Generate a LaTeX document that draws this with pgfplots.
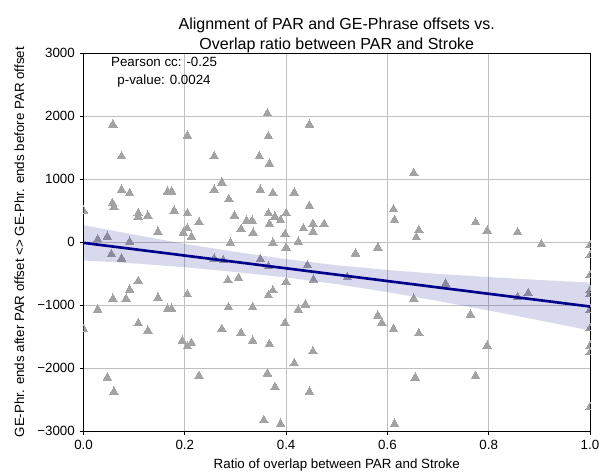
\documentclass[border=0pt]{standalone}
\usepackage{pgfplots}
\pgfplotsset{compat=1.18}
\usepackage{fontspec}
\setmainfont{Liberation Sans}
\definecolor{pts}{RGB}{163,163,163}
\definecolor{reg}{RGB}{0,0,139}
\definecolor{gridc}{RGB}{192,192,192}
\begin{document}
\begin{tikzpicture}
\begin{axis}[
  width=379.5pt, height=283.5pt, scale only axis,
  xmin=0, xmax=1, ymin=-3000, ymax=3000,
  xtick={0,0.2,0.4,0.6,0.8,1.0},
  xticklabels={0.0,0.2,0.4,0.6,0.8,1.0},
  ytick={-3000,-2000,-1000,0,1000,2000,3000},
  yticklabels={−3000,−2000,−1000,0,1000,2000,3000},
  tick align=outside, tick pos=left,
  major tick length=3pt,
  every tick/.style={black, line width=0.6pt},
  grid=major, grid style={gridc, line width=0.6pt},
  axis line style={black, line width=0.6pt},
  tick label style={font=\fontsize{10}{12}\selectfont},
  title={Alignment of PAR and GE-Phrase offsets vs.\\Overlap ratio between PAR and Stroke},
  title style={font=\fontsize{12}{15}\selectfont, align=center, at={(axis description cs:0.5,1)}, anchor=center, yshift=7pt},
  xlabel={Ratio of overlap between PAR and Stroke},
  ylabel={GE-Phr. ends after PAR offset <> GE-Phr. ends before PAR offset},
  label style={font=\fontsize{10}{12}\selectfont},
  xlabel style={at={(axis description cs:0.5,0)}, anchor=center, yshift=-25.5pt},
  ylabel style={at={(axis description cs:-0.1265,0.5)}, anchor=center},
  clip marker paths=true,
]
\addplot[only marks, color=pts, mark=triangle*, mark size=3.7pt, mark options={fill=pts, draw=pts, line width=0pt}] coordinates {
(0.058,1866) (0.205,1690) (0.075,1361) (0.258,1361) (0.347,1361)
(0.075,830) (0.091,776) (0.166,803) (0.174,803) (0.273,946) (0.258,830)
(0.287,681) (0.349,830) (0.057,620) (0.060,560) (0.0,500) (0.108,457)
(0.127,420) (0.108,400) (0.179,500) (0.205,457) (0.228,314) (0.298,420)
(0.322,340) (0.333,340) (0.311,207) (0.335,148) (0.147,164) (0.197,148)
(0.205,218) (0.028,43) (0.047,85) (0.091,5) (0.055,-191) (0.075,-260)
(0.213,85) (0.290,-11) (0.258,-260) (0.276,-287) (0.349,-270)
(0.108,-617) (0.091,-755) (0.058,-898) (0.084,-898) (0.028,-1069)
(0.0,-1377) (0.147,-882) (0.166,-1058) (0.174,-1058) (0.205,-829)
(0.108,-1287) (0.127,-1404) (0.285,-606) (0.306,-569) (0.286,-1032)
(0.334,-1032) (0.273,-1377) (0.311,-1441) (0.334,-1563) (0.195,-1563)
(0.205,-1654) (0.213,-1600) (0.047,-2148) (0.060,-2372) (0.228,-2121)
(0.363,2041) (0.446,1866) (0.365,1680) (0.367,1244) (0.652,1096)
(0.374,776) (0.416,787) (0.446,574) (0.612,521) (0.614,351) (0.365,457)
(0.378,404) (0.389,351) (0.400,457) (0.367,287) (0.453,287) (0.475,287)
(0.434,218) (0.453,164) (0.398,128) (0.662,191) (0.374,-11) (0.424,5)
(0.400,-85) (0.657,75) (0.537,-180) (0.581,-85) (0.365,-383) (0.442,-367)
(0.454,-595) (0.521,-553) (0.400,-633) (0.374,-766) (0.365,-845)
(0.424,-1074) (0.438,-989) (0.652,-898) (0.581,-1164) (0.589,-1281)
(0.612,-1377) (0.662,-1446) (0.398,-1281) (0.367,-1617) (0.453,-1733)
(0.416,-1919) (0.363,-2084) (0.378,-2297) (0.446,-2372) (0.655,-2148)
(0.356,-2823) (0.389,-2882) (0.614,-2882) (0.774,314) (0.797,180)
(0.857,155) (0.904,-32) (1.0,-48) (1.0,-207) (1.0,-526) (1.0,-766)
(1.0,-820) (1.0,-1074) (1.0,-1367) (1.0,-1643) (1.0,-1749) (1.0,-2616)
(0.715,-659) (0.764,-1148) (0.797,-1643) (0.774,-2121) (0.857,-872)
(0.878,-808)
};
\addplot[draw=none, fill=reg, fill opacity=0.15] coordinates {
(0,270) (0.1,120) (0.2,-27) (0.3,-153) (0.4,-269) (0.5,-365) (0.6,-441)
(0.7,-502) (0.8,-553) (0.9,-599) (1.0,-640)
(1.0,-1400) (0.9,-1239) (0.8,-1083) (0.7,-932) (0.6,-791) (0.5,-665)
(0.4,-559) (0.3,-473) (0.2,-397) (0.1,-336) (0,-290)
} -- cycle;
\addplot[reg, line width=2pt] coordinates {(0,-10) (1,-1020)};
\node[align=center, font=\fontsize{10}{13.5}\selectfont, inner sep=0pt] at (axis cs:0.159,2700) {Pearson cc: -0.25\\p-value: 0.0024};
\end{axis}
\pgfresetboundingbox
\path[use as bounding box] ([xshift=-62.6pt,yshift=-30.75pt]current axis.south west) rectangle ([xshift=6.75pt,yshift=39.75pt]current axis.north east);
\end{tikzpicture}
\end{document}
